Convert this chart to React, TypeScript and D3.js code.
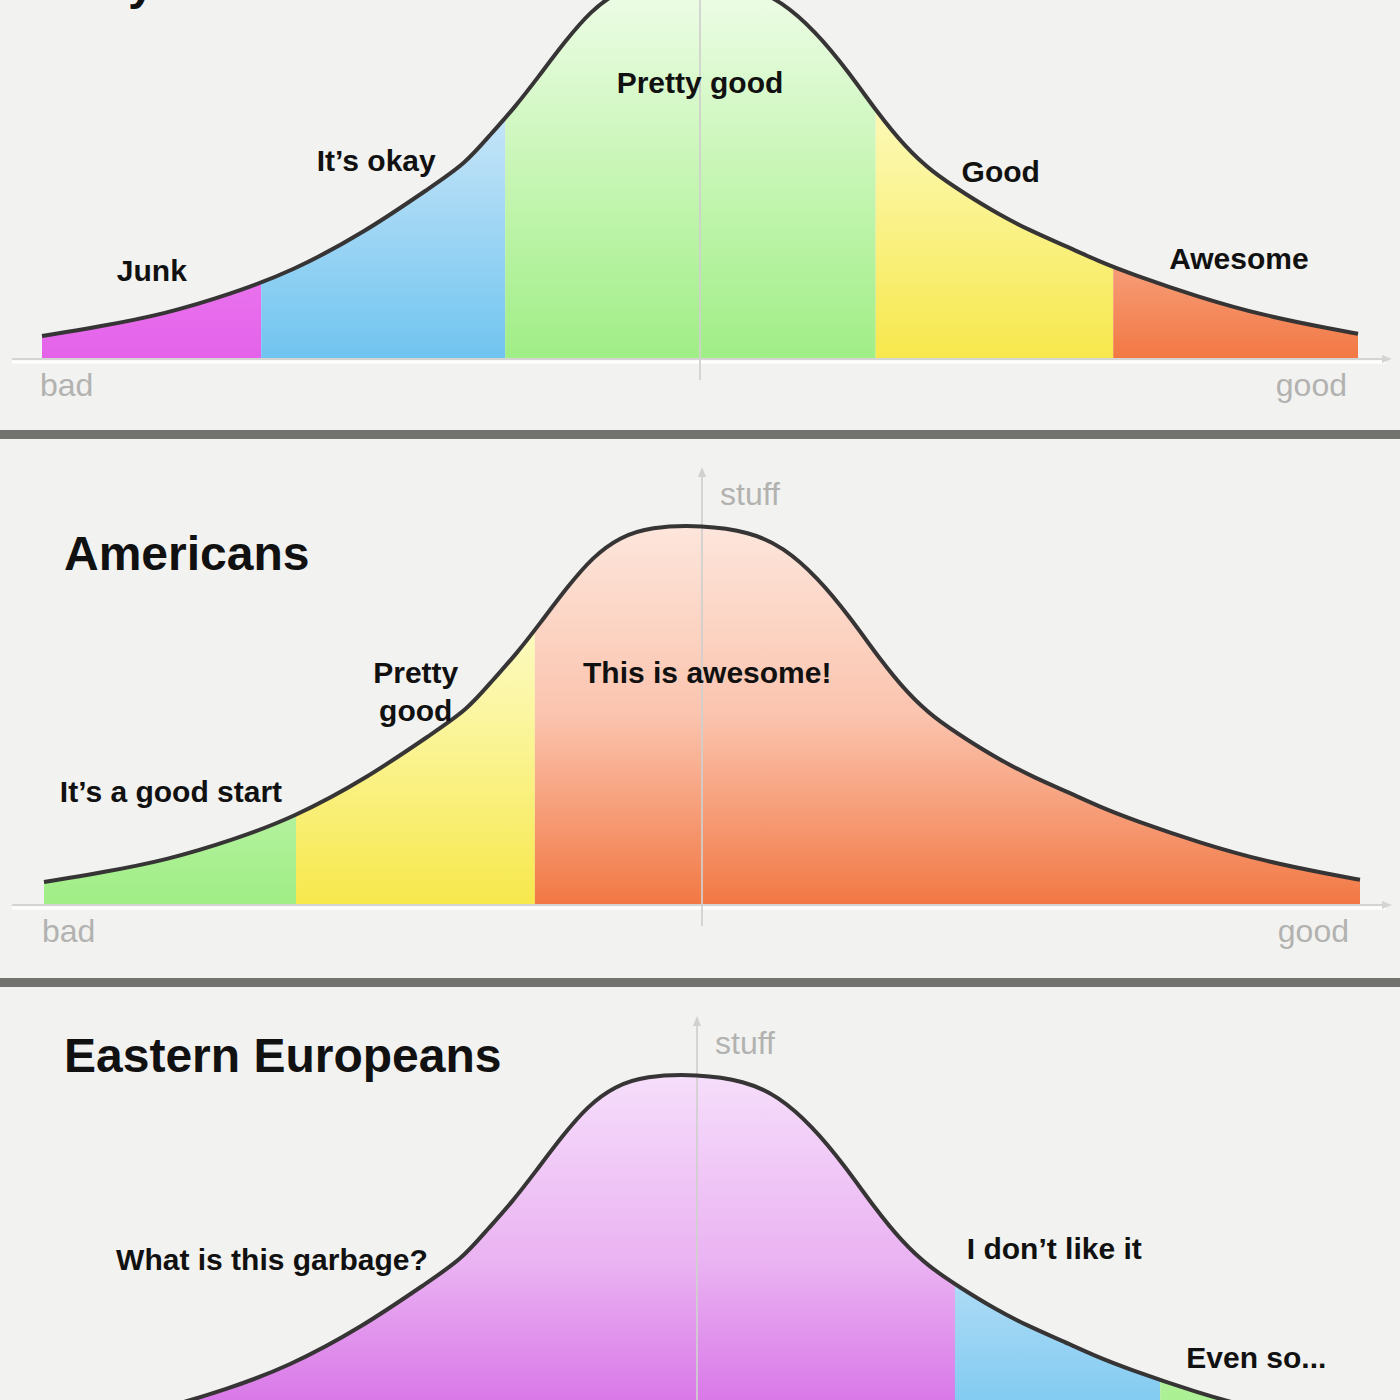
import React from 'react';
import * as d3 from 'd3';

// shared bell curve: quality (-100 bad .. 100 good) vs stuff (0..100)
const curveQuality = [-100, -91.5, -81.3, -71.3, -62.2, -50.9, -40.9, -35.7, -31.8, -28.1, -24.6, -20.5, -16.6, -12.5, -7.9, 0,
	7.3, 12.3, 17.5, 22.5, 27.1, 31.2, 35.1, 40.3, 45.3, 50.3, 55.5, 60.5, 65.5, 75.7, 85.9, 95.9, 100];
const curveStuff = [5.8, 8.2, 11.6, 16.9, 22.7, 33.2, 45.1, 51.2, 59.1, 66.2, 74.1, 83.6, 91.6, 96.8, 99.5, 100,
	98.2, 94.2, 86.3, 75.7, 64.4, 55.7, 49.3, 43.3, 38.0, 33.5, 29.6, 25.6, 22.2, 16.1, 11.1, 7.7, 6.4];

const panelTitles = ["Any other nation", "Americans", "Eastern Europeans"];

const normalCuts = [-100, -66.7, -29.6, 26.7, 62.8, 100];
const normalLabels = ["Junk", "It’s okay", "Pretty good", "Good", "Awesome"];

const americanCuts = [-100, -61.7, -25.4, 100];
const americanLabels = ["It’s a good start", "Pretty\ngood", "This is awesome!"];

const easternCuts = [-100, 39.2, 70.4, 100];
const easternLabels = ["What is this garbage?", "I don’t like it", "Even so..."];

const axisLabels = { left: "bad", right: "good", up: "stuff" };

// colours: [top, middle, bottom] of each band's gradient
const palette: Record<string, string[]> = {
	magenta: ["#f8c4f8", "#f08af2", "#e462ea"],
	blue: ["#eef7fc", "#b4def6", "#70c4f0"],
	green: ["#f0fdea", "#c8f6b6", "#a0ee86"],
	yellow: ["#fefee6", "#fbf6a0", "#f7e84c"],
	orange: ["#fde6dc", "#fbc4ae", "#f27844"],
	purple: ["#f6defb", "#eab2f2", "#d262e4"],
};
const normalColors = ["magenta", "blue", "green", "yellow", "orange"];
const americanColors = ["green", "yellow", "orange"];
const easternColors = ["purple", "blue", "green"];

const FONT = "'Liberation Sans', Arial, Helvetica, sans-serif";

type PanelProps = {
	id: string;
	title: string;
	titleY: number;
	baseline: number;
	x0: number;
	x1: number;
	cuts: number[];
	labels: string[];
	colors: string[];
	anchors: [number, number][];
	showStuff: boolean;
	showEnds: boolean;
};

const Panel = (p: PanelProps) => {
	const x = d3.scaleLinear().domain([-100, 100]).range([p.x0, p.x1]);
	const y = d3.scaleLinear().domain([0, 100]).range([p.baseline, p.baseline - 379]);
	const pts = curveQuality.map((q, i) => [q, curveStuff[i]] as [number, number]);
	const area = d3.area<[number, number]>()
		.x(d => x(d[0])).y0(y(0)).y1(d => y(d[1]))
		.curve(d3.curveBasis);
	const line = d3.line<[number, number]>()
		.x(d => x(d[0])).y(d => y(d[1]))
		.curve(d3.curveBasis);
	const cx = x(0);
	const areaPath = area(pts) || "";
	return (
		<g>
			<defs>
				{p.colors.map((c, i) => (
					<linearGradient key={i} id={`${p.id}-g${i}`} gradientUnits="userSpaceOnUse"
						x1={0} x2={0} y1={y(100)} y2={y(0)}>
						<stop offset="0" stopColor={palette[c][0]} />
						<stop offset="0.5" stopColor={palette[c][1]} />
						<stop offset="1" stopColor={palette[c][2]} />
					</linearGradient>
				))}
				{p.colors.map((c, i) => (
					<clipPath key={i} id={`${p.id}-c${i}`}>
						<rect x={x(p.cuts[i])} y={y(110)} width={x(p.cuts[i + 1]) - x(p.cuts[i])} height={y(0) - y(110)} />
					</clipPath>
				))}
			</defs>
			{/* horizontal axis */}
			<line x1={12} x2={1386} y1={p.baseline + 1} y2={p.baseline + 1} stroke="#d4d4d2" strokeWidth={2} />
			<line x1={12} x2={1386} y1={p.baseline + 4} y2={p.baseline + 4} stroke="#ffffff" strokeWidth={3} />
			<path d={`M${1392},${p.baseline + 1} l-10,-4 l0,8 z`} fill="#d4d4d2" />
			{p.colors.map((c, i) => (
				<path key={i} d={areaPath} fill={`url(#${p.id}-g${i})`} clipPath={`url(#${p.id}-c${i})`} />
			))}
			{/* vertical axis */}
			<line x1={cx} x2={cx} y1={p.baseline + 22} y2={p.baseline - 428} stroke="#d0d0ce" strokeWidth={2} opacity={0.85} />
			<path d={`M${cx},${p.baseline - 437} l-4,10 l8,0 z`} fill="#d0d0ce" />
			<path d={line(pts) || ""} fill="none" stroke="#363434" strokeWidth={4} strokeLinejoin="round" />
			{p.showEnds && (
				<g>
					<text x={p.x0 - 2} y={p.baseline + 38} fontFamily={FONT} fontSize={32} fill="#b2b2b0">{axisLabels.left}</text>
					<text x={p.x1 - 11} y={p.baseline + 38} fontFamily={FONT} fontSize={32} fill="#b2b2b0" textAnchor="end">{axisLabels.right}</text>
				</g>
			)}
			{p.showStuff && (
				<text x={cx + 18} y={p.baseline - 399} fontFamily={FONT} fontSize={32} fill="#b2b2b0">{axisLabels.up}</text>
			)}
			<text x={64} y={p.titleY} fontFamily={FONT} fontSize={48} fontWeight="bold" fill="#111">{p.title}</text>
			{p.labels.map((t, i) => {
				const lines = t.split("\n");
				const [aq, as] = p.anchors[i];
				return (
					<text key={i} x={x(aq)} y={y(as)} fontFamily={FONT} fontSize={30} fontWeight="bold" fill="#111"
						textAnchor="middle">
						{lines.map((l, j) => (
							<tspan key={j} x={x(aq)} dy={j === 0 ? 10 - (lines.length - 1) * 19 : 38}>{l}</tspan>
						))}
					</text>
				);
			})}
		</g>
	);
};

export default function App() {
	return (
		<svg width={1400} height={1400} style={{ position: 'absolute', left: 0, top: 0, display: 'block' }}>
			<rect width={1400} height={1400} fill="#f2f2f0" />
			<Panel id="p1" title={panelTitles[0]} titleY={-1} baseline={358} x0={42} x1={1358}
				cuts={normalCuts} labels={normalLabels} colors={normalColors} showStuff={false} showEnds={true}
				anchors={[[-83.3, 23], [-49.2, 52], [0, 72.5], [45.7, 49], [81.9, 26]]} />
			<Panel id="p2" title={panelTitles[1]} titleY={570} baseline={904} x0={44} x1={1360}
				cuts={americanCuts} labels={americanLabels} colors={americanColors} showStuff={true} showEnds={true}
				anchors={[[-80.7, 29.6], [-43.5, 56], [0.8, 61]]} />
			<Panel id="p3" title={panelTitles[2]} titleY={1072} baseline={1453} x0={39} x1={1355}
				cuts={easternCuts} labels={easternLabels} colors={easternColors} showStuff={true} showEnds={false}
				anchors={[[-64.6, 50.8], [54.3, 53.7], [85, 25]]} />
			<rect x={0} y={430} width={1400} height={9} fill="#72726e" />
			<rect x={0} y={978} width={1400} height={9} fill="#72726e" />
		</svg>
	);
}
